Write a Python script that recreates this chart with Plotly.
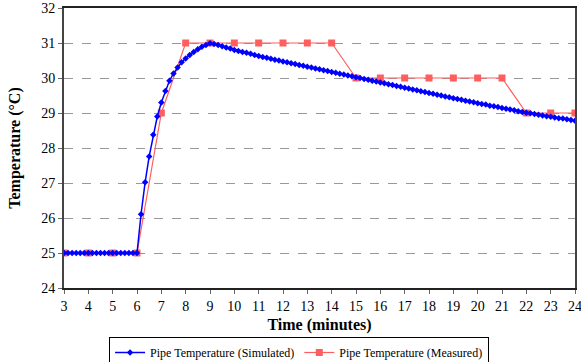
import plotly.graph_objects as go

# Simulated pipe temperature, sampled every 10 s from 3 to 24 minutes
sim_time = [round(3 + i / 6, 4) for i in range(127)]
sim_temp = [
    # 3.0 - 6.0 min (flat)
    25.0, 25.0, 25.0, 25.0, 25.0, 25.0, 25.0,
    25.0, 25.0, 25.0, 25.0, 25.0, 25.0,
    25.0, 25.0, 25.0, 25.0, 25.0, 25.0,
    # 6.17 - 9.0 (rise)
    26.11, 27.02, 27.76, 28.38, 28.90, 29.30,
    29.63, 29.92, 30.13, 30.30, 30.45, 30.56,
    30.66, 30.74, 30.82, 30.89, 30.94, 30.99,
    # 9.17 - 10.0
    30.97, 30.94, 30.91, 30.87, 30.84, 30.80,
    # 10.17 - 11.0
    30.77, 30.74, 30.72, 30.69, 30.66, 30.63,
    # 11.17 - 12.0
    30.60, 30.58, 30.55, 30.52, 30.50, 30.47,
    # 12.17 - 13.0
    30.45, 30.42, 30.40, 30.37, 30.35, 30.32,
    # 13.17 - 14.0
    30.30, 30.27, 30.25, 30.22, 30.20, 30.17,
    # 14.17 - 15.0
    30.15, 30.12, 30.10, 30.07, 30.05, 30.02,
    # 15.17 - 16.0
    30.00, 29.97, 29.95, 29.92, 29.90, 29.87,
    # 16.17 - 17.0
    29.85, 29.82, 29.80, 29.77, 29.75, 29.72,
    # 17.17 - 18.0
    29.70, 29.67, 29.65, 29.62, 29.60, 29.57,
    # 18.17 - 19.0
    29.55, 29.52, 29.50, 29.47, 29.45, 29.42,
    # 19.17 - 20.0
    29.40, 29.38, 29.35, 29.33, 29.31, 29.28,
    # 20.17 - 21.0
    29.26, 29.24, 29.21, 29.19, 29.17, 29.14,
    # 21.17 - 22.0
    29.12, 29.10, 29.08, 29.05, 29.03, 29.01,
    # 22.17 - 23.0
    28.99, 28.97, 28.95, 28.93, 28.91, 28.89,
    # 23.17 - 24.0
    28.87, 28.85, 28.84, 28.82, 28.80, 28.78,
]

# Measured pipe temperature, every minute
meas_time = [3, 4, 5, 6, 7, 8, 9, 10, 11, 12, 13, 14, 15, 16, 17, 18, 19, 20, 21, 22, 23, 24]
meas_temp = [25, 25, 25, 25, 29, 31, 31, 31, 31, 31, 31, 31, 30, 30, 30, 30, 30, 30, 30, 29, 29, 29]

x_ticks = list(range(3, 25))
y_ticks = list(range(24, 33))

FONT = "Liberation Serif"

fig = go.Figure()
fig.add_trace(go.Scatter(
    x=meas_time, y=meas_temp, mode="lines+markers",
    name="Pipe Temperature (Measured)",
    line=dict(color="#FF5E5E", width=1.2),
    marker=dict(symbol="square", size=7, color="#FF5E5E"),
))
fig.add_trace(go.Scatter(
    x=sim_time, y=sim_temp, mode="lines+markers",
    name="Pipe Temperature (Simulated)",
    line=dict(color="#0000FF", width=1.5),
    marker=dict(symbol="diamond", size=5, color="#0000FF"),
))

fig.update_layout(
    width=581, height=362,
    margin=dict(l=64, r=6, t=8, b=74, autoexpand=False),
    paper_bgcolor="white", plot_bgcolor="white",
    font=dict(family=FONT, size=14, color="black"),
    showlegend=True,
    legend=dict(
        orientation="h", x=0.46, xanchor="center",
        y=-0.175, yanchor="top",
        bordercolor="black", borderwidth=1,
        font=dict(family=FONT, size=12, color="black"),
        traceorder="reversed", itemwidth=30,
        tracegroupgap=0,
    ),
    xaxis=dict(
        range=[3, 24], tickmode="array", tickvals=x_ticks,
        ticktext=[str(v) for v in x_ticks],
        showgrid=False, zeroline=False, automargin=False,
        showline=True, linecolor="#222", linewidth=2, mirror=True,
        ticks="outside", ticklen=4, tickcolor="#666",
        ticklabeloverflow="allow",
        tickfont=dict(family=FONT, size=14, color="black"),
        title=dict(text="<b>Time (minutes)</b>",
                   font=dict(family=FONT, size=16, color="black"), standoff=6),
    ),
    yaxis=dict(
        range=[24, 32], tickmode="array", tickvals=y_ticks,
        ticktext=[str(v) for v in y_ticks],
        showgrid=True, gridcolor="#999", griddash="dash", gridwidth=1,
        zeroline=False, automargin=False,
        showline=True, linecolor="#444", linewidth=2, mirror=True,
        ticks="outside", ticklen=4, tickcolor="#666",
        ticklabeloverflow="allow",
        tickfont=dict(family=FONT, size=14, color="black"),
        title=dict(text="<b>Temperature (°C)</b>",
                   font=dict(family=FONT, size=16, color="black"), standoff=17),
    ),
)

# remove the browser's default 8 px body margin so the figure fills the window
fig.write_html(
    "out.html",
    config={"displayModeBar": False},
    post_script="document.body.style.margin='0';document.body.style.overflow='hidden';",
)
